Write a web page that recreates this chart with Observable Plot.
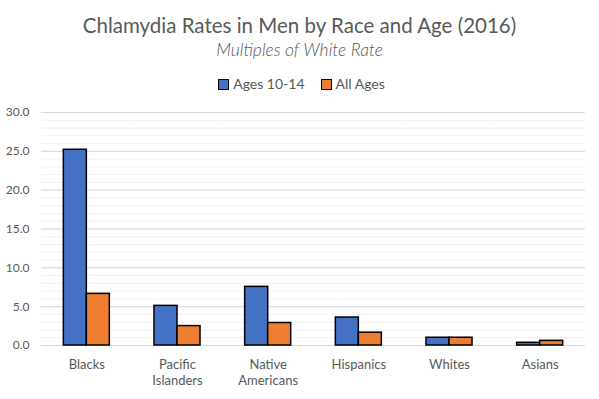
<!DOCTYPE html>
<html><head><meta charset="utf-8">
<script src="https://cdn.jsdelivr.net/npm/d3@7"></script>
<script src="https://cdn.jsdelivr.net/npm/@observablehq/plot@0.6"></script>
<style>
body{margin:0;background:#fff;font-family:Lato,"Open Sans",sans-serif;}
#wrap{position:relative;width:599px;height:399px;overflow:hidden;background:#fff}
#title{position:absolute;top:12px;left:0;width:599px;text-align:center;font-size:20.5px;color:#595959;line-height:26px}
#subtitle{position:absolute;top:40px;left:0;width:599px;text-align:center;font-size:17.5px;font-style:italic;color:#595959;font-weight:300;line-height:20px}
#legend{position:absolute;top:75px;left:0;width:599px;text-align:center;font-size:14px;color:#595959;line-height:18px;padding-left:4px;box-sizing:border-box}
.item{display:inline-flex;align-items:center;margin:0 8px}
.sw{display:inline-block;width:9px;height:9px;border:1px solid #000;margin-right:4px}
#chart{position:absolute;top:100px;left:0}
</style></head>
<body><div id="wrap">
<div id="title">Chlamydia Rates in Men by Race and Age (2016)</div>
<div id="subtitle">Multiples of White Rate</div>
<div id="legend"></div>
<div id="chart"></div>
</div>
<script>
const categories = ["Blacks","Pacific Islanders","Native Americans","Hispanics","Whites","Asians"];
const series = ["Ages 10-14","All Ages"];
const colors = ["#4472C4","#ED7D31"];
const ages1014 = [25.2,5.1,7.55,3.6,1.0,0.35];
const allAges = [6.65,2.5,2.9,1.65,1.0,0.6];
const yTicks = [0,5,10,15,20,25,30];
const minorTicks = d3.range(0,31,1);

const data = categories.flatMap((c,i)=>[
  {category:c, series:series[0], value:ages1014[i]},
  {category:c, series:series[1], value:allAges[i]}
]);

const legend = document.getElementById("legend");
series.forEach((s,i)=>{
  const it = document.createElement("span"); it.className="item";
  const sw = document.createElement("span"); sw.className="sw"; sw.style.background=colors[i];
  it.appendChild(sw); it.appendChild(document.createTextNode(s));
  legend.appendChild(it);
});

const chart = Plot.plot({
  width:599, height:299,
  marginLeft:41, marginRight:14, marginTop:12, marginBottom:54,
  style:{fontFamily:"Lato, 'Open Sans', sans-serif", color:"#595959", background:"#fff"},
  fx:{domain:categories, padding:0, label:null, axis:null, round:false},
  x:{domain:series, axis:null, paddingInner:0, paddingOuter:0.97, round:false},
  y:{domain:[0,30], axis:null},
  color:{domain:series, range:colors},
  marks:[
    Plot.ruleY(minorTicks,{stroke:"#f0f0f0"}),
    Plot.ruleY(yTicks,{stroke:"#d9d9d9"}),
    Plot.barY(data,{fx:"category", x:"series", y:"value", fill:"series", stroke:"#000", strokeWidth:1.5}),
    Plot.axisY(yTicks,{tickFormat:d=>d.toFixed(1), tickSize:0, tickPadding:12, label:null, fontSize:12}),
    Plot.axisFx({anchor:"bottom", tickSize:0, tickPadding:11, label:null, fontSize:13, lineHeight:1.3, tickFormat:d=>d.replace(" ","\n")})
  ]
});
document.getElementById("chart").appendChild(chart);
</script>
</body></html>
